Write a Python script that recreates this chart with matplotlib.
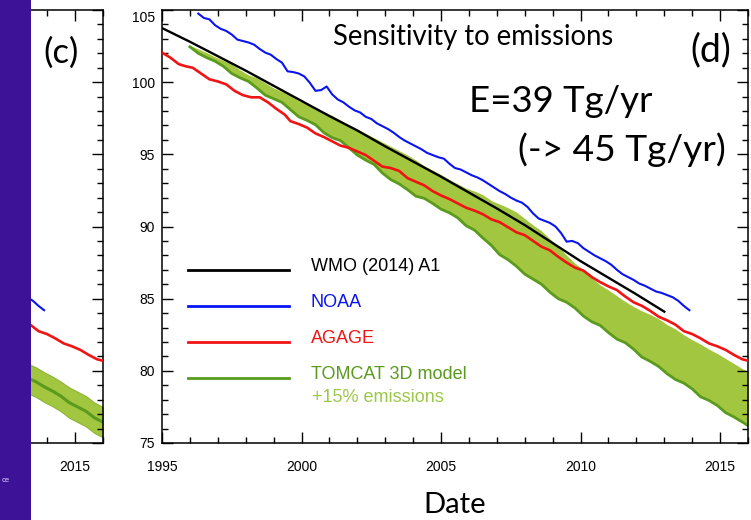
import numpy as np
import matplotlib
matplotlib.use("Agg")
import matplotlib.pyplot as plt
import matplotlib.transforms as mtransforms
from matplotlib.patches import Rectangle
from matplotlib.ticker import MultipleLocator, FixedLocator
from matplotlib.lines import Line2D

# ---------------- data ----------------
wmo_t = [1995, 1996, 1997, 1998, 1999, 2000, 2001, 2002, 2003, 2004, 2005,
         2006, 2007, 2008, 2009, 2010, 2011, 2012, 2013]
wmo_v = [103.75, 102.8, 101.8, 100.8, 99.75, 98.7, 97.65, 96.65, 95.55, 94.5, 93.45,
         92.35, 91.25, 90.1, 88.85, 87.6, 86.45, 85.3, 84.1]

noaa_t = [1996.3, 1996.5, 1996.7, 1996.9, 1997.1, 1997.3, 1997.5, 1997.7, 1997.9,
          1998.1, 1998.3, 1998.5, 1998.7, 1998.9, 1999.1, 1999.3, 1999.5, 1999.7, 1999.9,
          2000.1, 2000.3, 2000.5, 2000.7, 2000.9, 2001.1, 2001.3, 2001.5, 2001.7, 2001.9,
          2002.1, 2002.3, 2002.5, 2002.7, 2002.9, 2003.1, 2003.3, 2003.5, 2003.7, 2003.9,
          2004.1, 2004.3, 2004.5, 2004.7, 2004.9, 2005.1, 2005.3, 2005.5, 2005.7, 2005.9,
          2006.1, 2006.3, 2006.5, 2006.7, 2006.9, 2007.1, 2007.3, 2007.5, 2007.7, 2007.9,
          2008.1, 2008.3, 2008.5, 2008.7, 2008.9, 2009.1, 2009.3, 2009.5, 2009.7, 2009.9,
          2010.1, 2010.3, 2010.5, 2010.7, 2010.9, 2011.1, 2011.3, 2011.5, 2011.7, 2011.9,
          2012.1, 2012.3, 2012.5, 2012.7, 2012.9, 2013.1, 2013.3, 2013.5, 2013.7, 2013.9]
noaa_v = [104.75, 104.45, 104.35, 103.95, 103.7, 103.55, 103.3, 102.95, 102.85,
          102.75, 102.6, 102.3, 102.05, 101.9, 101.6, 101.35, 100.75, 100.7, 100.6,
          100.4, 99.95, 99.4, 99.45, 99.7, 99.15, 98.8, 98.6, 98.3, 98.05,
          97.9, 97.6, 97.45, 97.15, 96.95, 96.75, 96.5, 96.2, 95.95, 95.75,
          95.55, 95.35, 95.1, 94.95, 94.8, 94.7, 94.35, 94.05, 93.95, 93.75,
          93.55, 93.4, 93.2, 92.95, 92.7, 92.45, 92.25, 92.0, 91.8, 91.65,
          91.35, 90.9, 90.55, 90.4, 90.25, 90.0, 89.55, 88.95, 89.0, 88.85,
          88.5, 88.25, 88.0, 87.8, 87.6, 87.35, 87.0, 86.7, 86.5, 86.3,
          86.05, 85.9, 85.7, 85.5, 85.4, 85.25, 85.1, 84.85, 84.5, 84.2]

agage_t = [1995.0, 1995.3, 1995.6, 1995.85, 1996.1, 1996.4, 1996.7, 1997.0, 1997.3, 1997.6,
           1997.9, 1998.2, 1998.5, 1998.8, 1999.1, 1999.4, 1999.6, 1999.9, 2000.2, 2000.5,
           2000.8, 2001.1, 2001.4, 2001.7, 2002.0, 2002.3, 2002.6, 2002.9, 2003.2, 2003.5,
           2003.8, 2004.1, 2004.4, 2004.7, 2005.0, 2005.3, 2005.6, 2005.9, 2006.2, 2006.5,
           2006.8, 2007.1, 2007.4, 2007.7, 2008.0, 2008.3, 2008.6, 2008.9, 2009.2, 2009.5,
           2009.8, 2010.1, 2010.4, 2010.7, 2011.0, 2011.3, 2011.6, 2011.9, 2012.2, 2012.5,
           2012.8, 2013.1, 2013.4, 2013.7, 2014.0, 2014.3, 2014.6, 2014.9, 2015.2, 2015.5,
           2015.8, 2016.0]
agage_v = [102.05, 101.7, 101.25, 101.1, 101.0, 100.6, 100.2, 100.05, 99.85, 99.4,
           99.1, 98.95, 98.95, 98.6, 98.15, 97.75, 97.3, 97.1, 96.85, 96.45,
           96.2, 95.9, 95.6, 95.45, 95.2, 94.95, 94.55, 94.15, 94.05, 93.85,
           93.35, 93.1, 92.85, 92.45, 92.15, 91.9, 91.6, 91.3, 91.1, 90.85,
           90.5, 90.3, 89.95, 89.6, 89.4, 89.0, 88.6, 88.35, 87.9, 87.5,
           87.15, 86.95, 86.5, 86.15, 85.85, 85.6, 85.15, 84.75, 84.5, 84.15,
           83.75, 83.5, 83.2, 82.75, 82.55, 82.25, 81.9, 81.7, 81.45, 81.1,
           80.8, 80.7]

model_t = [1996.0, 1996.3, 1996.6, 1996.9, 1997.2, 1997.5, 1997.8, 1998.1, 1998.4, 1998.7,
           1999.0, 1999.3, 1999.6, 1999.9, 2000.2, 2000.5, 2000.8, 2001.1, 2001.4, 2001.7,
           2002.0, 2002.3, 2002.6, 2002.9, 2003.2, 2003.5, 2003.8, 2004.1, 2004.4, 2004.7,
           2005.0, 2005.3, 2005.6, 2005.9, 2006.2, 2006.5, 2006.8, 2007.1, 2007.4, 2007.7,
           2008.0, 2008.3, 2008.6, 2008.9, 2009.2, 2009.5, 2009.8, 2010.1, 2010.4, 2010.7,
           2011.0, 2011.3, 2011.6, 2011.9, 2012.2, 2012.5, 2012.8, 2013.1, 2013.4, 2013.7,
           2014.0, 2014.3, 2014.6, 2014.9, 2015.2, 2015.5, 2015.8, 2016.0]
model_base = [102.45, 102.0, 101.7, 101.45, 101.1, 100.6, 100.3, 100.05, 99.6, 99.1,
              98.85, 98.6, 98.1, 97.6, 97.35, 97.05, 96.5, 96.15, 95.95, 95.45,
              94.95, 94.6, 94.3, 93.7, 93.25, 92.95, 92.55, 92.1, 91.95, 91.6,
              91.2, 90.95, 90.6, 90.05, 89.75, 89.2, 88.7, 88.05, 87.7, 87.25,
              86.7, 86.35, 86.0, 85.45, 85.0, 84.75, 84.35, 83.8, 83.4, 83.15,
              82.65, 82.2, 81.95, 81.5, 80.95, 80.65, 80.3, 79.8, 79.4, 79.15,
              78.75, 78.2, 77.95, 77.6, 77.1, 76.8, 76.45, 76.2]
model_plus15 = [102.55, 102.3, 102.05, 101.75, 101.5, 101.25, 100.85, 100.5, 100.3, 99.95,
                99.6, 99.35, 99.1, 98.7, 98.45, 98.25, 97.95, 97.7, 97.35, 97.05,
                96.75, 96.45, 96.15, 95.85, 95.55, 95.25, 94.95, 94.6, 94.2, 93.9,
                93.6, 93.25, 92.95, 92.65, 92.45, 92.2, 91.8, 91.55, 91.3, 91.0,
                90.55, 90.1, 89.7, 89.15, 88.6, 88.0, 87.45, 87.0, 86.45, 85.95,
                85.6, 85.2, 84.8, 84.45, 84.15, 83.9, 83.6, 83.2, 82.9, 82.5,
                82.15, 81.85, 81.5, 81.2, 80.85, 80.5, 80.15, 79.95]

# panel (c) model (only its right edge is visible)
c_t = [2013.0, 2013.3, 2013.6, 2013.9, 2014.2, 2014.5, 2014.8, 2015.1, 2015.4, 2015.7, 2016.0]
c_mid = [79.75, 79.5, 79.25, 78.9, 78.6, 78.25, 77.8, 77.5, 77.2, 76.75, 76.45]
c_hi = [80.75, 80.5, 80.25, 79.9, 79.6, 79.25, 78.85, 78.55, 78.25, 77.8, 77.5]
c_lo = [78.7, 78.45, 78.2, 77.85, 77.55, 77.2, 76.75, 76.45, 76.15, 75.7, 75.4]

labels = ["WMO (2014) A1", "NOAA", "AGAGE", "TOMCAT 3D model"]

# ---------------- style ----------------
BLACK = "#000000"
BLUE = "#0a14f0"
RED = "#f01414"
DKGREEN = "#5a9a1c"
LTGREEN = "#a2c640"
TXTGREEN = "#9cc84a"
PURPLE = "#3e1296"
TICKFONT = "Liberation Sans"
BIGFONT = "Lato"

W, H = 751, 520
fig = plt.figure(figsize=(W / 100, H / 100), dpi=100)
fig.patch.set_facecolor("white")

AX_L, AX_R, AX_T, AX_B = 162, 748, 10, 443
aw = (AX_R - AX_L) / W
ah = (AX_B - AX_T) / H
axd = fig.add_axes([AX_L / W, 1 - AX_B / H, aw, ah])
c_right = 102.7
axc = fig.add_axes([(c_right - (AX_R - AX_L)) / W, 1 - AX_B / H, aw, ah])


def style(ax):
    ax.set_xlim(1995, 2016)
    ax.set_ylim(75, 105)
    ax.xaxis.set_major_locator(MultipleLocator(5))
    ax.xaxis.set_minor_locator(MultipleLocator(1))
    ax.yaxis.set_major_locator(MultipleLocator(5))
    ax.yaxis.set_minor_locator(MultipleLocator(1))
    ax.tick_params(which="both", direction="in", top=True, right=True, width=1.0)
    ax.tick_params(which="major", length=8)
    ax.tick_params(which="minor", length=4.5)
    ax.tick_params(axis="x", which="major", pad=12, labelsize=10)
    ax.tick_params(axis="y", which="major", pad=5, labelsize=10)
    for lab in ax.get_xticklabels() + ax.get_yticklabels():
        lab.set_fontfamily(TICKFONT)
    for s in ax.spines.values():
        s.set_linewidth(1.1)


for ax in (axd, axc):
    style(ax)

# ---- panel (d)
axd.fill_between(model_t, model_base, model_plus15, color=LTGREEN, lw=0, zorder=1)
axd.plot(model_t, model_base, color=DKGREEN, lw=2.0, zorder=2)
axd.plot(agage_t, agage_v, color=RED, lw=1.9, zorder=3)
axd.plot(wmo_t, wmo_v, color=BLACK, lw=1.7, zorder=4)
axd.plot(noaa_t, noaa_v, color=BLUE, lw=1.5, zorder=4)

handles = [Line2D([], [], color=c, lw=2.0) for c in (BLACK, BLUE, RED, DKGREEN)]
leg = axd.legend(handles, labels, loc="upper left", bbox_to_anchor=(0.0445, 0.4275),
                 frameon=False, handlelength=5.6, handletextpad=1.2, labelspacing=1.06,
                 prop={"family": TICKFONT, "size": 13}, borderpad=0, borderaxespad=0)
for txt, c in zip(leg.get_texts(), (BLACK, BLUE, RED, DKGREEN)):
    txt.set_color(c)
# keys sit a little below the text baseline centre, as in the original
shift = mtransforms.ScaledTranslation(0, -5 / 100, fig.dpi_scale_trans)
for ln in leg.get_lines():
    ln.set_transform(ln.get_transform() + shift)


def fx(px):
    return (px - AX_L) / (AX_R - AX_L)


def fy(py):
    return (AX_B - py) / (AX_B - AX_T)


axd.text(fx(312), fy(398), "+15% emissions",
         transform=axd.transAxes, color=TXTGREEN, fontsize=13, family=TICKFONT,
         ha="left", va="center")

axd.set_xlabel("Date", family=BIGFONT, fontsize=21, labelpad=13)

axd.text(fx(473), fy(45), "Sensitivity to emissions", transform=axd.transAxes,
         family=BIGFONT, fontsize=19.8, ha="center", va="baseline")
axd.text(fx(711), fy(61), "(d)", transform=axd.transAxes,
         family=BIGFONT, fontsize=27, ha="center", va="baseline")
axd.text(fx(561), fy(112), "E=39 Tg/yr", transform=axd.transAxes,
         family=BIGFONT, fontsize=26.4, ha="center", va="baseline")
axd.text(fx(622), fy(161), "(-> 45 Tg/yr)", transform=axd.transAxes,
         family=BIGFONT, fontsize=26.7, ha="center", va="baseline")

# nudge the top y label down slightly as in the original
fig.canvas.draw()
for lab in axd.get_yticklabels():
    if lab.get_text() == "105":
        lab.set_transform(lab.get_transform() +
                          mtransforms.ScaledTranslation(0, -6 / 100, fig.dpi_scale_trans))

# ---- panel (c)
axc.xaxis.set_major_locator(FixedLocator([2015]))
axc.tick_params(axis="y", labelleft=False)
axc.fill_between(c_t, c_lo, c_hi, color=LTGREEN, lw=0.8, edgecolor="#8cb636", zorder=1)
axc.plot(c_t, c_mid, color=DKGREEN, lw=2.2, zorder=2)
axc.plot(agage_t, agage_v, color=RED, lw=1.9, zorder=3)
axc.plot(noaa_t, noaa_v, color=BLUE, lw=1.5, zorder=4)
axc.text((61 - c_right) / (AX_R - AX_L) + 1, fy(63), "(c)", transform=axc.transAxes,
         family=BIGFONT, fontsize=25, ha="center", va="baseline")

# ---- purple side strip (cropped slide background)
fig.patches.append(Rectangle((0, 0), 31 / W, 1, transform=fig.transFigure,
                             facecolor=PURPLE, edgecolor="none", zorder=10))
fig.text(2 / W, 1 - 481 / H, "ce", color="#d9cdf2", fontsize=5.5,
         family=TICKFONT, ha="left", va="center", zorder=11)

fig.savefig("out.png", dpi=100)
